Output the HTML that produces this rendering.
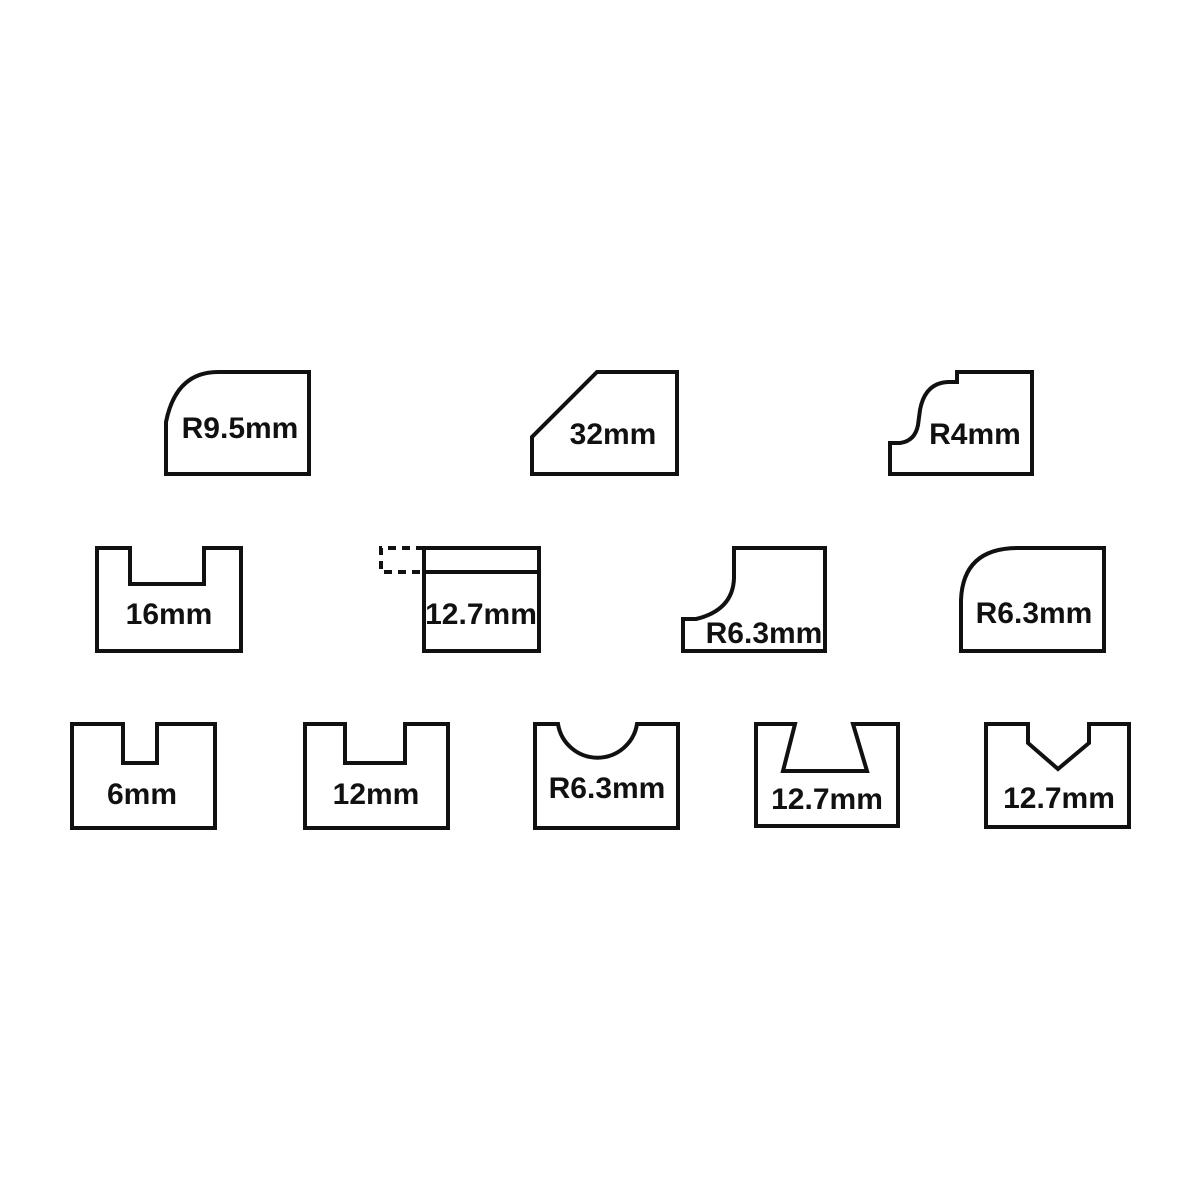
<!DOCTYPE html>
<html><head><meta charset="utf-8"><style>
html,body{margin:0;padding:0;background:#fff;}
svg{display:block}
text{font-family:"Liberation Sans",sans-serif;font-weight:bold;font-size:30px;fill:#111;text-anchor:middle}
</style></head><body>
<svg width="1200" height="1200" viewBox="0 0 1200 1200" xmlns="http://www.w3.org/2000/svg">
<g fill="none" stroke="#111" stroke-width="4" stroke-linejoin="miter">
<!-- row 1 -->
<path d="M166,474 L166,422 Q176,372 218,372 L309,372 L309,474 Z"/>
<path d="M532,474 L532,437 L597,372 L677,372 L677,474 Z"/>
<path d="M890,474 L890,443 L900,443 Q915,441 918,425 L920,410 Q925,383 948,382 L957,382 L957,372 L1032,372 L1032,474 Z"/>
<!-- row 2 -->
<path d="M97,651 L97,548 L130,548 L130,584 L204,584 L204,548 L241,548 L241,651 Z"/>
<rect x="424" y="548" width="115" height="103"/>
<line x1="424" y1="572" x2="539" y2="572"/>
<path d="M424,548 L381,548 L381,572 L424,572" stroke-dasharray="8,6"/>
<path d="M683,651 L683,619 L696,619 Q733,610 734,578 L734,548 L825,548 L825,651 Z"/>
<path d="M961,651 L961,600 Q963,548 1018,548 L1104,548 L1104,651 Z"/>
<!-- row 3 -->
<path d="M72,828 L72,724 L123,724 L123,763 L157,763 L157,724 L215,724 L215,828 Z"/>
<path d="M305,828 L305,724 L345,724 L345,763 L405,763 L405,724 L448,724 L448,828 Z"/>
<path d="M535,828 L535,724 L558,724 A40,40 0 0 0 637,724 L678,724 L678,828 Z"/>
<path d="M756,826 L756,724 L795,724 L783,771 L867,771 L853,724 L898,724 L898,826 Z"/>
<path d="M986,827 L986,724 L1028,724 L1028,743 L1058,769 L1089,743 L1089,724 L1129,724 L1129,827 Z"/>
</g>
<text x="240" y="438">R9.5mm</text>
<text x="613" y="444">32mm</text>
<text x="975" y="444">R4mm</text>
<text x="169" y="624">16mm</text>
<text x="481" y="624">12.7mm</text>
<text x="764" y="643">R6.3mm</text>
<text x="1034" y="623">R6.3mm</text>
<text x="142" y="804">6mm</text>
<text x="376" y="804">12mm</text>
<text x="607" y="798">R6.3mm</text>
<text x="827" y="809">12.7mm</text>
<text x="1059" y="808">12.7mm</text>
</svg>
</body></html>
